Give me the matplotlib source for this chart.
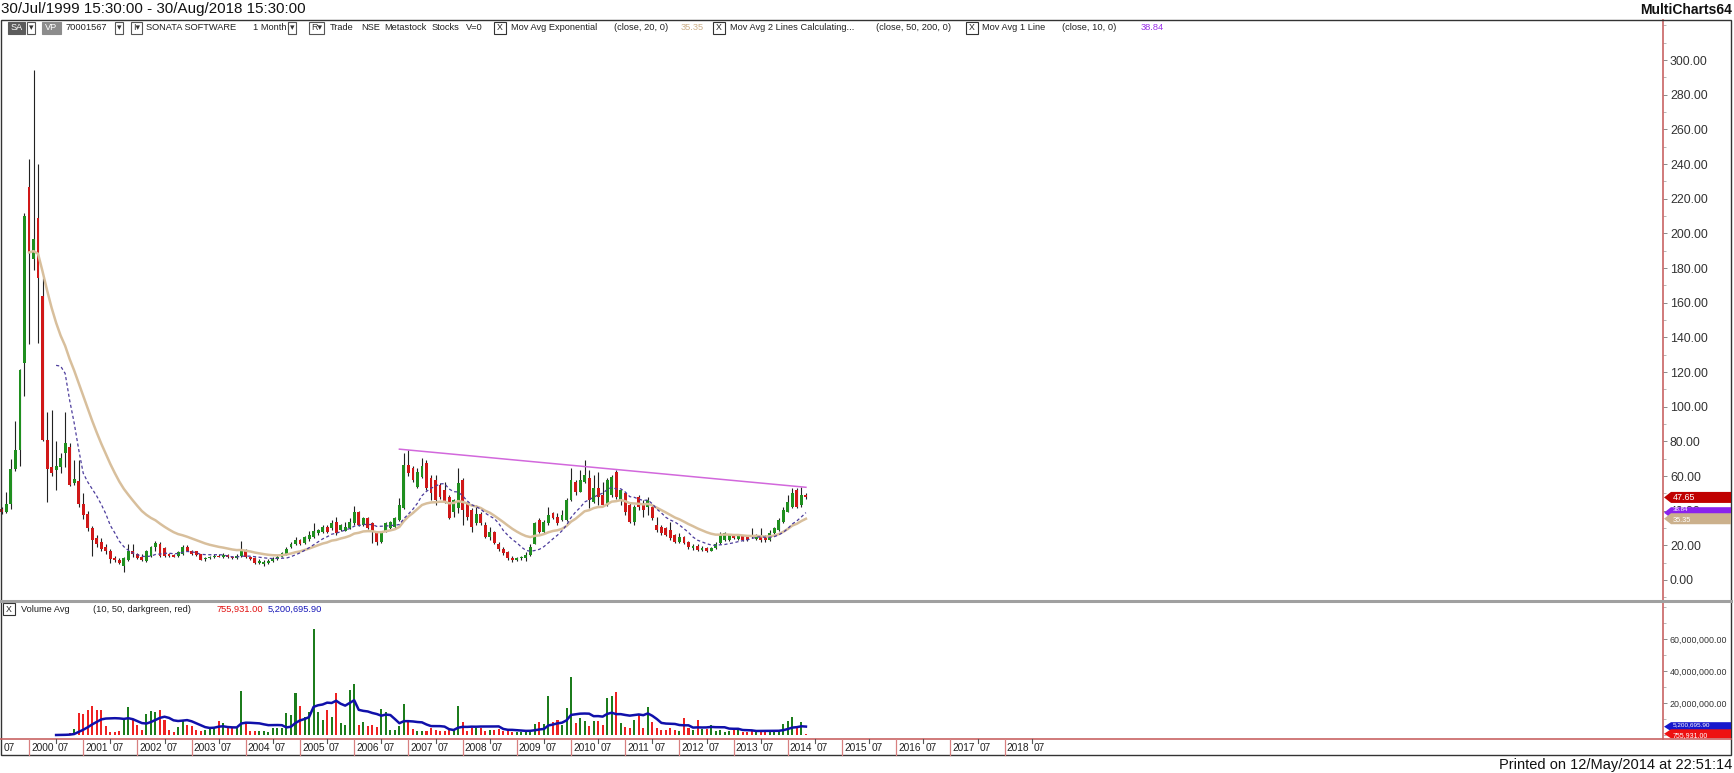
import numpy as np
import matplotlib
matplotlib.use("Agg")
import matplotlib.pyplot as plt
import matplotlib.transforms as mtransforms
from matplotlib import font_manager
from matplotlib.patches import Rectangle, Polygon
from matplotlib.lines import Line2D
from matplotlib.ticker import FuncFormatter, MultipleLocator

# ── SONATA SOFTWARE, monthly bars Jul 1999 .. May 2014 (one row per year) ──
first_year, first_month = 1999, 7

opens = [
    41, 39.5, 44, 64, 75, 125,
    227, 185, 209, 164, 81, 65, 63.5, 65, 73, 77, 56, 57,
    44, 38, 30, 24, 22, 19, 17, 12.5, 11.5, 8, 11.7, 16.9,
    14.8, 13, 11, 14, 19, 21, 18.5, 14.8, 14.5, 13.8, 14.8, 19.3,
    16.9, 16.5, 14.8, 12, 12.5, 13, 14, 13, 14.5, 13.5, 12.5, 14,
    17, 13.5, 12.5, 10, 9.5, 10, 11, 12, 13.5, 15, 19, 20.5,
    23, 21.5, 23.5, 25, 26.9, 27.9, 30.7, 29.8, 33.6, 28.8, 28.4, 29.8,
    32.7, 39.4, 31.7, 35.5, 32.7, 26.9, 22.1, 27.9, 29.8, 30.7, 34.6, 41.3,
    66.4, 64.5, 53.9, 59.7, 67.4, 58.7, 57.7, 54.9, 52, 48.1, 39.4, 41.3,
    57.7, 44.2, 40.4, 33, 38, 31.7, 25, 27.9, 21, 18, 16, 12.8,
    11.5, 12.5, 12.5, 14.5, 21, 34.6, 27.9, 32.7, 38.4, 36.5, 34.6, 34.6,
    46.2, 56.8, 51, 56.8, 58.7, 45.2, 52.9, 49, 43.3, 49, 62.6, 46.2,
    50, 43.3, 33.6, 48.1, 43.3, 42.3, 42.3, 31.7, 30.7, 29.8, 28.8, 26,
    22.1, 25, 22.1, 18.5, 19.5, 17.5, 18.5, 17, 18.5, 21.1, 23.1, 23.1,
    26, 23.5, 25.4, 25, 26, 23.5, 25.4, 25, 23.1, 26.9, 28.8, 33.6,
    39.4, 42.3, 52, 43.3, 49,
]
highs = [
    42, 51, 70, 92, 122, 212,
    243, 294, 240, 174, 97, 98, 80, 73.5, 97, 79, 69, 69,
    50, 40, 31, 26, 24, 21, 18, 14, 12.5, 13, 21, 21,
    15.5, 15, 17.5, 19.5, 22.5, 22, 19, 15.5, 15, 16.5, 20, 20,
    17.5, 17, 15, 13.5, 14, 15, 15, 15.5, 15, 14, 15, 22.5,
    18, 14, 13, 12, 11.5, 12, 13, 14.5, 16, 19, 22, 25,
    23.5, 25.5, 28, 32.7, 29.5, 31.7, 31.5, 34.6, 36.5, 32.5, 33.6, 35.5,
    42.7, 40, 36.5, 36.5, 33.6, 27.9, 28.5, 33.6, 34, 36.5, 47.1, 73.1,
    75, 65.5, 64.5, 70.3, 69.3, 60.6, 60.6, 55.8, 56.8, 49, 47, 64.5,
    58.7, 45.2, 41.3, 43, 39, 33.6, 30.7, 28.5, 22, 19, 16.5, 14,
    13.5, 14, 16, 21, 33.6, 35.5, 34.5, 42.1, 39.4, 38.4, 40.4, 47.1,
    64.5, 57.7, 63.5, 69.3, 63.5, 60.6, 62.6, 56.8, 58.7, 60.6, 63.5, 52.5,
    51, 44.2, 43.3, 49, 46.2, 48.1, 43.3, 36.5, 31.7, 30.5, 33.6, 26.5,
    26.9, 25.5, 22.5, 21, 20.5, 19.5, 19, 19, 22, 27.9, 27.9, 26.5,
    26.5, 26.5, 26, 25.5, 29.8, 26.5, 29.8, 26, 28.8, 30.5, 35.5, 42.3,
    49, 52.9, 52.9, 53.9, 50,
]
lows = [
    38, 38.5, 41, 63, 66, 106,
    136, 179, 137, 80, 45, 60, 52, 61.5, 65, 54, 55, 42,
    35, 28, 14, 19, 17, 15, 10, 10.5, 9, 4.5, 10.7, 13.5,
    12, 11, 10.5, 13, 17, 13.5, 13, 13, 13, 13.5, 14.5, 16.5,
    14.5, 14, 11.5, 11, 12, 12.5, 13, 12.5, 12.5, 12, 12, 13.5,
    12.5, 11.5, 9.5, 9, 8, 9.5, 10.5, 11.5, 13, 14.5, 18.5, 20,
    20, 21, 22.5, 24.5, 26, 27, 27, 29, 26, 28, 28, 29.5,
    32, 31, 31, 29.5, 21.1, 20.2, 21.5, 27.5, 29.5, 30, 34, 41,
    60, 56.8, 53, 59, 52, 46.2, 43.3, 47, 44.2, 35, 36.5, 38.4,
    31.7, 34.6, 27.9, 32, 32, 24.5, 23, 20.5, 17, 14.5, 11.5, 10.5,
    11, 11.5, 11, 14, 20.5, 27, 27, 32, 35, 31.7, 34, 34,
    45.5, 49, 50.5, 56, 41.3, 44.5, 43.3, 42.5, 42.5, 48, 47, 43.3,
    37.5, 32.7, 31.7, 40.4, 36.5, 37.5, 34.6, 27.9, 26, 25.5, 23.1, 21.5,
    21.1, 20.5, 18, 17.5, 16.5, 16.5, 16, 16.5, 18, 20.5, 22.5, 22.5,
    23.5, 23, 22.5, 22.5, 24, 23, 22.1, 22.1, 22.5, 26.5, 28.5, 33,
    39, 41.5, 41.3, 42.3, 46.5,
]
closes = [
    39.5, 44, 64, 75, 121, 210,
    189, 197, 174, 81, 64, 61.5, 66, 70.6, 79, 55, 58, 44,
    37.5, 30, 23, 21, 18, 16.5, 12, 11.5, 10, 12.8, 16.5, 14.8,
    12.8, 11.7, 16.9, 19, 21.4, 14, 13.8, 13.8, 13.5, 15.9, 19.3, 16.9,
    14.8, 14.4, 11.7, 12.5, 13, 14, 13.5, 14.5, 13, 12.5, 14, 18,
    13, 12, 10, 11, 10.5, 11, 12, 13.5, 15.5, 18, 21, 23,
    21, 25, 26, 28, 28.8, 30.7, 27.9, 32.7, 26.9, 31.7, 30.7, 33.6,
    39.4, 31.7, 35.5, 29.8, 27.9, 22.1, 27.9, 32.7, 33.6, 35.5, 43.3, 66.4,
    61.6, 57.7, 62.6, 65.5, 52.9, 50, 46.2, 48.1, 45.2, 35.5, 46.2, 55.8,
    40.4, 36.5, 30.7, 38, 33, 25, 27.9, 21.1, 18, 15.5, 12.5, 11.5,
    12.5, 13, 14.5, 19, 32.7, 27.9, 33.6, 37.5, 35.5, 32.7, 37.5, 46.2,
    57.7, 51, 57.7, 60.6, 46.2, 52.9, 48.1, 43.3, 57.7, 59.7, 48.1, 52,
    39.4, 33.6, 42.3, 42.3, 40.4, 46.2, 35.5, 28.8, 26.9, 26, 24, 22.1,
    25, 21.1, 19, 19.5, 17.5, 18.5, 17, 18.5, 21, 25.9, 26.9, 26,
    24, 26, 23.1, 23.1, 25, 26, 23.1, 23.1, 26.9, 29.8, 34.6, 40.4,
    45, 50, 42.3, 49, 47.65,
]
# volume in millions of shares
volume_mn = [
    0, 0, 0, 0, 0, 0,
    0, 0, 0, 0, 0, 0, 0, 0.3, 0.8, 1.2, 3.75, 13.5,
    13.1, 15.6, 18.1, 15.6, 15.6, 5.6, 2.1, 2.1, 2.5, 10.4, 17.3, 9.4,
    6.3, 3.1, 12.9, 15.2, 14.6, 15.6, 9.4, 3.1, 2.1, 5.2, 8.75, 6.25,
    5.6, 3.1, 2.7, 3.1, 4.2, 4.6, 8.75, 7.3, 4.2, 4.2, 5.2, 27.5,
    7.9, 2.5, 2.5, 2.7, 2.7, 2.1, 4.6, 4.6, 4.2, 13.5, 12.5, 26.0,
    18.1, 11.5, 14.6, 66.3, 14.6, 9.4, 15.6, 11.5, 26.5, 7.3, 6.25, 28.1,
    31.7, 6.25, 8.3, 5.6, 6.25, 4.8, 16.0, 14.6, 3.1, 3.1, 5.6, 19.2,
    8.3, 3.75, 2.7, 2.7, 2.7, 4.6, 3.1, 2.7, 2.7, 3.1, 3.1, 18.3,
    7.9, 2.5, 4.2, 4.2, 4.2, 2.7, 3.1, 3.1, 3.5, 2.5, 2.5, 2.1,
    2.1, 2.1, 2.1, 3.1, 6.7, 7.9, 6.7, 24.4, 8.3, 9.4, 6.25, 16.7,
    36.0, 7.3, 10.4, 8.75, 5.8, 8.75, 8.75, 6.25, 22.9, 24.4, 27.1, 7.3,
    5.2, 4.6, 9.4, 12.5, 4.2, 17.3, 7.9, 4.2, 3.1, 3.1, 4.2, 3.1,
    2.7, 10.8, 4.2, 3.1, 9.2, 3.5, 3.5, 6.25, 2.5, 3.1, 2.1, 2.5,
    3.1, 3.1, 1.7, 2.1, 2.5, 2.5, 2.7, 3.1, 2.5, 3.1, 3.1, 6.9,
    9.0, 11.0, 5.2, 7.9, 0.76,
]

# hand-drawn trendline (bar index, price)
trend_x = [88, 178]
trend_y = [75.5, 53.5]

# last values printed in the legends / axis tags
close_tag = "47.65"
ema_tag = "35.35"
ma_tag = "38.84"
vol_tag = "755,931.00"
vavg_tag = "5,200,695.90"

# ── derived series (as the studies compute them) ──────────────────────────────
o, h, l, c = (np.array(a, dtype=float) for a in (opens, highs, lows, closes))
vol = np.array(volume_mn) * 1e6
n = len(c)
bars = np.arange(n)
up = c >= o

ema = np.full(n, np.nan)
ema[6] = c[6]
k = 2 / 21
for i in range(7, n):
    ema[i] = ema[i - 1] + k * (c[i] - ema[i - 1])
ma10 = np.full(n, np.nan)
vma10 = np.full(n, np.nan)
for i in range(12, n):
    ma10[i] = c[i - 9:i + 1].mean()
    vma10[i] = vol[i - 9:i + 1].mean()


# ── fonts ─────────────────────────────────────────────────────────────────────
def have(name):
    try:
        font_manager.findfont(name, fallback_to_default=False)
        return True
    except Exception:
        return False

REG = "Liberation Sans" if have("Liberation Sans") else "DejaVu Sans"
if have("Liberation Sans Narrow"):
    NAR, SQ = "Liberation Sans Narrow", 0.82
else:
    NAR, SQ = REG, 1.0
def nfs(s):  # narrow font size for a given regular-width size
    return s / SQ

# ── figure / layout in pixels ─────────────────────────────────────────────────
W, H = 1734, 773
fig = plt.figure(figsize=(W / 100, H / 100), dpi=100)
fig.patch.set_facecolor("white")
fx = lambda px: px / W
fy = lambda py: 1 - py / H

AXR = 1663
ax = fig.add_axes([0, fy(600), fx(AXR), (600 - 20) / H])
axv = fig.add_axes([0, fy(739), fx(AXR), (739 - 602) / H])

GREEN, RED = "#1f8f1f", "#d01818"
AXCOL = "#c86464"

# candles
ax.vlines(bars, l, h, color="#222222", lw=0.8, zorder=2)
body_lo = np.minimum(o, c)
body_h = np.maximum(np.abs(c - o), 0.5)
ax.bar(bars, body_h, bottom=body_lo, width=0.64,
       color=np.where(up, GREEN, RED), lw=0, zorder=3)
ax.plot(bars, ema, color="#d8bf9c", lw=1.8, zorder=4)
ax.plot(bars, ma10, color="#4c3c9c", lw=0.9, ls=(0, (2.5, 2)), zorder=5)
ax.plot(trend_x, trend_y, color="#d268dc", lw=1.1, zorder=5)

# volume
axv.bar(bars, vol, width=0.45, color=np.where(up, "#1c7c1c", "#ee2222"), lw=0)
axv.plot(bars, vma10, color="#1010aa", lw=1.8)

xl = (-1.9 / 4.517, (AXR - 1.9) / 4.517)
for a in (ax, axv):
    a.set_xlim(*xl)
    a.set_xticks([])
    a.set_facecolor("white")
    for s in ("left", "top", "bottom"):
        a.spines[s].set_visible(False)
    a.spines["right"].set_color(AXCOL)
    a.spines["right"].set_linewidth(1.2)
    a.yaxis.tick_right()
    a.tick_params(axis="y", which="major", length=3, width=0.6, color="#777777",
                  pad=2, labelcolor="#333333")
    a.tick_params(axis="y", which="minor", length=2, width=0.5, color="#999999")

ax.set_ylim((580 - 600) / 1.733, (580 - 20) / 1.733)
ax.set_yticks(np.arange(0, 301, 20))
ax.yaxis.set_minor_locator(MultipleLocator(10))
ax.yaxis.set_major_formatter(FuncFormatter(lambda v, p: f"{v:.2f}"))
ax.tick_params(axis="y", labelsize=8.9)
for t in ax.get_yticklabels():
    t.set_family(REG)

axv.set_ylim((735 - 739) / 1.6 * 1e6, (735 - 602) / 1.6 * 1e6)
axv.set_yticks([20e6, 40e6, 60e6])
axv.yaxis.set_minor_locator(MultipleLocator(10e6))
axv.yaxis.set_major_formatter(FuncFormatter(lambda v, p: f"{v:,.2f}"))
axv.tick_params(axis="y", labelsize=nfs(6.4))
for t in axv.get_yticklabels():
    t.set_family(NAR)

# ── frame, separators, axis lines ─────────────────────────────────────────────
def fline(x0, y0, x1, y1, **kw):
    fig.add_artist(Line2D([fx(x0), fx(x1)], [fy(y0), fy(y1)],
                          transform=fig.transFigure, **kw))

def fbox(x0, y0, x1, y1, fc="white", ec="#444444", lw=0.8):
    fig.add_artist(Rectangle((fx(x0), fy(y1)), fx(x1) - fx(x0), (y1 - y0) / H,
                             transform=fig.transFigure, fc=fc, ec=ec, lw=lw))

fline(0, 600.5, 1731, 600.5, color="#a0a0a0", lw=2.2)
fline(0, 739, 1731, 739, color=AXCOL, lw=1.2)
fbox(0.5, 20, 1731, 755, fc="none", ec="#333333", lw=1.0)

# time strip under the volume panel
strip = mtransforms.blended_transform_factory(axv.transData, fig.transFigure)
lab_off = mtransforms.offset_copy(strip, fig=fig, x=2, y=0, units="dots")
fs_x = nfs(7.3)
fig.text(0, fy(748), "07", transform=lab_off, fontsize=fs_x, family=NAR,
         va="center", color="#222222")
for year in range(2000, 2019):
    m_jan = (year - first_year) * 12 + (1 - first_month)
    fig.add_artist(Line2D([m_jan, m_jan], [fy(739), fy(755)], transform=strip,
                          color="#d88080", lw=0.9))
    fig.text(m_jan, fy(748), str(year), transform=lab_off, fontsize=fs_x,
             family=NAR, va="center", color="#222222")
    m_jul = m_jan + 6
    fig.add_artist(Line2D([m_jul, m_jul], [fy(739), fy(743)], transform=strip,
                          color="#555555", lw=0.8))
    fig.text(m_jul, fy(748), "07", transform=lab_off, fontsize=fs_x,
             family=NAR, va="center", color="#222222")

# ── value tags on the right axis ──────────────────────────────────────────────
def tag(axis, value, half, text, fc, tc="white", fs=6.4, dy=0.0):
    tr = mtransforms.blended_transform_factory(fig.transFigure, axis.transData)
    x_tip, x0, x1 = fx(1664), fx(1671), fx(1731)
    fig.add_artist(Polygon([(x_tip, value), (x0, value - half), (x1, value - half),
                            (x1, value + half), (x0, value + half)],
                           closed=True, transform=tr, fc=fc, ec="none"))
    ttr = mtransforms.offset_copy(tr, fig=fig, x=0, y=dy, units="dots")
    fig.add_artist(plt.Text(fx(1673), value, text, transform=ttr, color=tc,
                            fontsize=nfs(fs), family=NAR, va="center", ha="left"))

tag(ax, float(close_tag), 5.5 / 1.733, close_tag, "#c00000")
# the moving-average tag sits just above the EMA tag and is mostly covered by it
tag(ax, float(ma_tag), 5.5 / 1.733, ma_tag, "#8a22ee", fs=4.4, dy=3.5)
tag(ax, float(ema_tag), 5.5 / 1.733, ema_tag, "#cbb08c", fs=5.3, dy=-2.0)
tag(axv, float(vavg_tag.replace(",", "")), 4.5 / 1.6 * 1e6, vavg_tag, "#1818cc",
    fs=4.6, dy=2.0)
tag(axv, float(vol_tag.replace(",", "")), 4.5 / 1.6 * 1e6, vol_tag, "#ee1111",
    fs=5.0, dy=-1.5)

# ── header, legends, footer ───────────────────────────────────────────────────
fig.text(fx(1), fy(9.5), "30/Jul/1999 15:30:00 - 30/Aug/2018 15:30:00",
         fontsize=nfs(10.9), family=NAR, va="center", color="#111111")
fig.text(fx(1732), fy(9.5), "MultiCharts64", fontsize=nfs(10.0), family=NAR,
         weight="bold", va="center", ha="right", color="#111111")
fig.text(fx(1732), fy(764.5), "Printed on 12/May/2014 at 22:51:14",
         fontsize=nfs(10.5), family=NAR, va="center", ha="right", color="#111111")

LG = 28
fs_l = nfs(6.7)
def ltext(x, s, color="#222222", y=LG):
    fig.text(fx(x), fy(y), s, fontsize=fs_l, family=NAR, va="center",
             ha="left", color=color)

def xbox(x, y=LG):
    fbox(x, y - 6, x + 12, y + 6, ec="#333333")
    fig.text(fx(x + 6), fy(y), "X", fontsize=nfs(6.3), family=NAR,
             ha="center", va="center", color="#222222")

def drop(x0, x1, s="▾", y=LG):
    fbox(x0, y - 6, x1, y + 6, ec="#555555")
    fig.text(fx((x0 + x1) / 2), fy(y), s, fontsize=6.5,
             family=[REG, "DejaVu Sans"], ha="center", va="center", color="#333333")

fbox(8, LG - 6, 25, LG + 6, fc="#5c5c5c", ec="#5c5c5c")
fig.text(fx(16.5), fy(LG), "SA", fontsize=nfs(6.6), family=NAR, color="white",
         ha="center", va="center")
drop(27, 35)
fbox(42, LG - 6, 61, LG + 6, fc="#8c8c8c", ec="#8c8c8c")
fig.text(fx(51.5), fy(LG), "VP", fontsize=nfs(6.6), family=NAR, color="white",
         ha="center", va="center")
ltext(66, "70001567")
drop(115, 123)
drop(131, 142, "I▾")
ltext(146, "SONATA SOFTWARE")
ltext(253, "1 Month")
drop(288, 296)
drop(309, 324, "R▾")
ltext(330, "Trade")
ltext(361, "NSE")
ltext(384, "Metastock")
ltext(432, "Stocks")
ltext(466, "V=0")
xbox(494)
ltext(511, "Mov Avg Exponential")
ltext(614, "(close, 20, 0)")
ltext(681, ema_tag, "#cdb08a")
xbox(713)
ltext(730, "Mov Avg 2 Lines Calculating...")
ltext(876, "(close, 50, 200, 0)")
xbox(966)
ltext(982, "Mov Avg 1 Line")
ltext(1062, "(close, 10, 0)")
ltext(1141, ma_tag, "#9a30e8")

VL = 609
xbox(3, VL)
ltext(21, "Volume Avg", y=VL)
ltext(93, "(10, 50, darkgreen, red)", y=VL)
ltext(217, vol_tag, "#e01010", y=VL)
ltext(268, vavg_tag, "#1818b8", y=VL)

fig.savefig("out.png", dpi=100)
